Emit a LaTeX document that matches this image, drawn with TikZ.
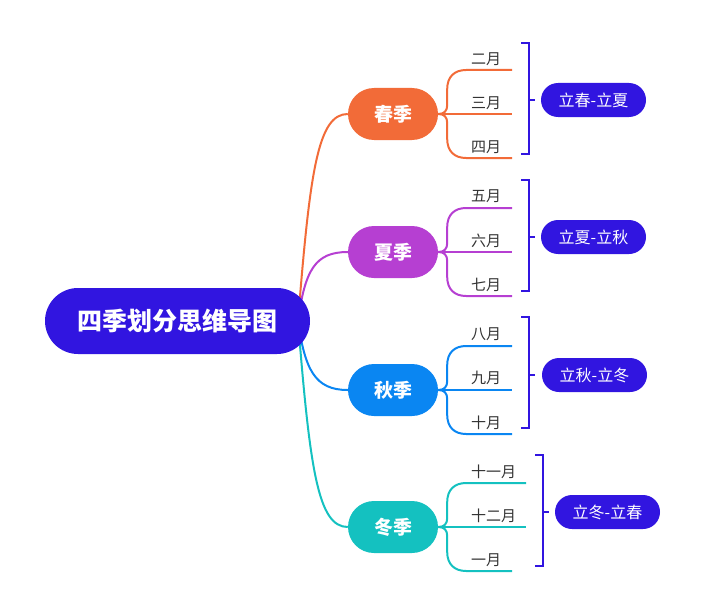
\documentclass[tikz,border=0pt]{standalone}
\usepackage{fontspec}
\setmainfont{Noto Sans CJK SC}
\usetikzlibrary{backgrounds,calc}
\definecolor{rootc}{HTML}{3115E0}
\definecolor{springc}{HTML}{F26B38}
\definecolor{summerc}{HTML}{B63FD2}
\definecolor{autumnc}{HTML}{0A86F2}
\definecolor{winterc}{HTML}{14C1C0}
\definecolor{monthc}{HTML}{333333}
\begin{document}
\begin{tikzpicture}[x=1pt,y=-1pt,
 rootbox/.style={fill=rootc, text=white, font=\fontsize{25}{29}\selectfont\bfseries, minimum width=265pt, minimum height=66pt, rounded corners=33pt, inner sep=0pt},
 seasonbox/.style={fill=#1, text=white, font=\fontsize{19}{22}\selectfont\bfseries, minimum width=90pt, minimum height=52pt, rounded corners=26pt, inner sep=0pt},
 sumbox/.style={fill=rootc, text=white, font=\fontsize{16}{20}\selectfont, minimum width=105pt, minimum height=34pt, rounded corners=17pt, inner sep=0pt},
 monthlbl/.style={text=monthc, font=\fontsize{15}{17}\selectfont, inner sep=0pt, anchor=west},
 conn/.style={line width=2pt, draw=#1},
 brk/.style={line width=2pt, draw=rootc},
]
\useasboundingbox (0,0) rectangle (703,615);

\node[rootbox] (root) at (177.5,321) {四季划分思维导图};
\node[seasonbox=springc] (spring) at (393,114) {春季};
\node[seasonbox=summerc] (summer) at (393,252) {夏季};
\node[seasonbox=autumnc] (autumn) at (393,390) {秋季};
\node[seasonbox=winterc] (winter) at (393,527) {冬季};

\node[sumbox] (s1) at (593.5,100) {立春-立夏};
\node[sumbox] (s2) at (593.5,237) {立夏-立秋};
\node[sumbox] (s3) at (594.5,375) {立秋-立冬};
\node[sumbox] (s4) at (607.5,512) {立冬-立春};

\node[monthlbl] (m2) at (471,59) {二月};
\node[monthlbl] (m3) at (471,103) {三月};
\node[monthlbl] (m4) at (471,147) {四月};
\node[monthlbl] (m5) at (471,196) {五月};
\node[monthlbl] (m6) at (471,241) {六月};
\node[monthlbl] (m7) at (471,285) {七月};
\node[monthlbl] (m8) at (471,334) {八月};
\node[monthlbl] (m9) at (471,378) {九月};
\node[monthlbl] (m10) at (471,423) {十月};
\node[monthlbl] (m11) at (471,472) {十一月};
\node[monthlbl] (m12) at (471,516) {十二月};
\node[monthlbl] (m1) at (471,560) {一月};

\coordinate (hub) at (298,321);
\begin{pgfonlayer}{background}
\draw[conn=springc] (hub) .. controls (310,170) and (318,114) .. (spring.west);
\draw[conn=summerc] (hub) .. controls (305,270) and (315,252) .. (summer.west);
\draw[conn=autumnc] (hub) .. controls (305,370) and (315,390) .. (autumn.west);
\draw[conn=winterc] (hub) .. controls (310,470) and (318,527) .. (winter.west);
\end{pgfonlayer}

\foreach \s/\c/\ea/\em/\eb in {spring/springc/512/512/512, summer/summerc/512/512/512, autumn/autumnc/512/512/512, winter/winterc/526/526/512} {
  \coordinate (E) at (\s.east);
  \draw[conn=\c] (E) -- ($(E)+({\em-438},0)$);
  \draw[conn=\c] (E) .. controls ($(E)+(6,0)$) and ($(E)+(9,-3)$) .. ($(E)+(9,-9)$)
     -- ($(E)+(9,-25)$) .. controls ($(E)+(9,-37)$) and ($(E)+(16,-44)$) .. ($(E)+(28,-44)$)
     -- ($(E)+({\ea-438},-44)$);
  \draw[conn=\c] (E) .. controls ($(E)+(6,0)$) and ($(E)+(9,3)$) .. ($(E)+(9,9)$)
     -- ($(E)+(9,25)$) .. controls ($(E)+(9,37)$) and ($(E)+(16,44)$) .. ($(E)+(28,44)$)
     -- ($(E)+({\eb-438},44)$);
}

\draw[brk] (521,43) -- (529,43) -- (529,154) -- (521,154);
\coordinate (b1) at (535,100);
\draw[brk] (529,100) -- (b1);
\draw[brk] (521,180) -- (529,180) -- (529,291) -- (521,291);
\coordinate (b2) at (535,237);
\draw[brk] (529,237) -- (b2);
\draw[brk] (521,317) -- (529,317) -- (529,428) -- (521,428);
\coordinate (b3) at (535,375);
\draw[brk] (529,375) -- (b3);
\draw[brk] (535,455) -- (543,455) -- (543,566) -- (535,566);
\coordinate (b4) at (549,512);
\draw[brk] (543,512) -- (b4);
\end{tikzpicture}
\end{document}
